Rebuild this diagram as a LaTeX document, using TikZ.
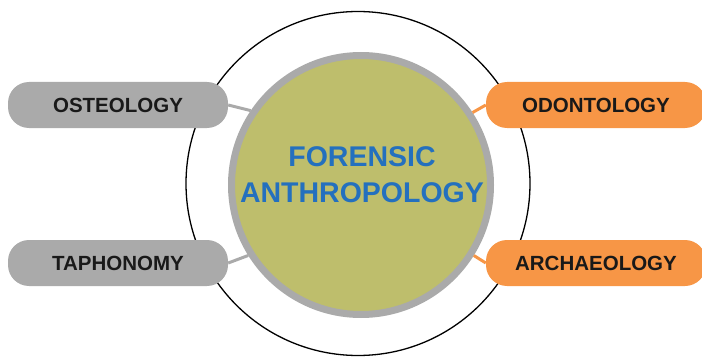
\documentclass[tikz,border=0pt]{standalone}
\usepackage{fontspec}
\setmainfont{Liberation Sans}
\usepackage{tikz}
\usetikzlibrary{shapes,arrows,positioning}

\definecolor{boxgray}{RGB}{170,170,170}
\definecolor{boxorange}{RGB}{247,150,70}
\definecolor{olive}{RGB}{190,190,108}
\definecolor{titleblue}{RGB}{36,112,190}

\tikzset{
	fieldbox/.style={rounded corners=21pt, minimum width=220pt, minimum height=46pt,
		font=\fontsize{20.5}{24}\selectfont\bfseries, text=black!90},
	link/.style={line width=3pt}
}

\begin{document}
\begin{tikzpicture}[x=1pt,y=1pt]
			 	\useasboundingbox (0,0) rectangle (702,357);
				\path (358,173.5) coordinate (origin) ;
				\draw[line width=1.3pt] (origin) circle (172);
				\node[fieldbox, fill=boxgray] (osteo) at (118,252) {OSTEOLOGY};
				\node[fieldbox, fill=boxgray] (taph) at (118,94) {TAPHONOMY};
				\node[fieldbox, fill=boxorange] (odonto) at (596,252) {ODONTOLOGY};
				\node[fieldbox, fill=boxorange] (archae) at (596,94) {ARCHAEOLOGY};
				\node[circle, minimum size=259pt, inner sep=0pt, fill=olive, draw=boxgray, line width=7pt] (fa) at (361,172) {};
				\node[align=center, font=\fontsize{28.5}{36}\selectfont\bfseries, text=titleblue] (title) at (362,182) {FORENSIC\\ANTHROPOLOGY};
				\draw[link, boxgray] (osteo.east)--(fa.146) (taph.east)--(fa.212);
				\draw[link, boxorange] (odonto.west)--(fa.33) (archae.west)--(fa.-32);
				\end{tikzpicture}
\end{document}
